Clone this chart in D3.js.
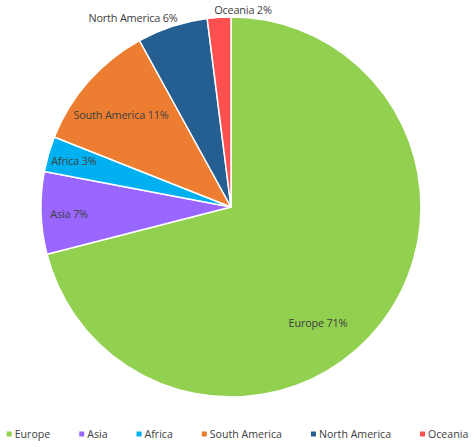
<!DOCTYPE html>
<html>
<head>
<meta charset="utf-8">
<script src="https://cdn.jsdelivr.net/npm/d3@7"></script>
<style>
  html, body { margin: 0; padding: 0; background: #fff; }
  svg { display: block; }
  text { font-family: "Open Sans", "Noto Sans", sans-serif; fill: #404040; }
</style>
</head>
<body>
<svg id="chart" width="475" height="447"></svg>
<script>
// ---- data ----
const categories = ["Europe", "Asia", "Africa", "South America", "North America", "Oceania"];
const values = [71, 7, 3, 11, 6, 2];
const colors = ["#92D050", "#9966FF", "#00B0F0", "#ED7D31", "#255E91", "#FF5050"];

// ---- layout (label offsets from pie centre, in px) ----
const labelOffsets = [[87, 115], [-162, 6], [-157, -47], [-110, -93], [-98, -190], [12, -198]];

const width = 475, height = 447;
const cx = 231, cy = 207, radius = 190;

const svg = d3.select("#chart");
const total = d3.sum(values);
const data = categories.map((c, i) => ({ name: c, value: values[i], color: colors[i], off: labelOffsets[i] }));

const pie = d3.pie().value(d => d.value).sort(null);
const arc = d3.arc().innerRadius(0).outerRadius(radius);
const arcs = pie(data);

const g = svg.append("g").attr("transform", `translate(${cx},${cy})`);
g.selectAll("path.slice")
  .data(arcs)
  .join("path")
  .attr("class", "slice")
  .attr("d", arc)
  .attr("fill", d => d.data.color)
  .attr("stroke", "#fff")
  .attr("stroke-width", 1.5)
  .attr("stroke-linejoin", "round");

g.selectAll("text.lbl")
  .data(arcs)
  .join("text")
  .attr("class", "lbl")
  .attr("x", d => d.data.off[0])
  .attr("y", d => d.data.off[1])
  .attr("text-anchor", "middle")
  .attr("dominant-baseline", "central")
  .style("font-size", "10.9px")
  .style("letter-spacing", "-0.2px")
  .text(d => `${d.data.name} ${Math.round(d.data.value / total * 100)}%`);

// ---- legend ----
const legend = svg.append("g").attr("class", "legend");
const ly = 434, gap = 29, sw = 5, textGap = 8;
const items = legend.selectAll("g.item").data(data).join("g").attr("class", "item");
items.append("rect")
  .attr("width", sw).attr("height", sw)
  .attr("y", ly - sw / 2)
  .attr("fill", d => d.color);
items.append("text")
  .attr("x", textGap)
  .attr("y", ly)
  .attr("dominant-baseline", "central")
  .style("font-size", "10.6px")
  .text(d => d.name);
let widths = [];
items.each(function () { widths.push(textGap + d3.select(this).select("text").node().getComputedTextLength()); });
const totalW = d3.sum(widths) + gap * (widths.length - 1);
let x = (width - totalW) / 2;
items.each(function (d, i) {
  d3.select(this).attr("transform", `translate(${x},0)`);
  x += widths[i] + gap;
});
</script>
</body>
</html>
